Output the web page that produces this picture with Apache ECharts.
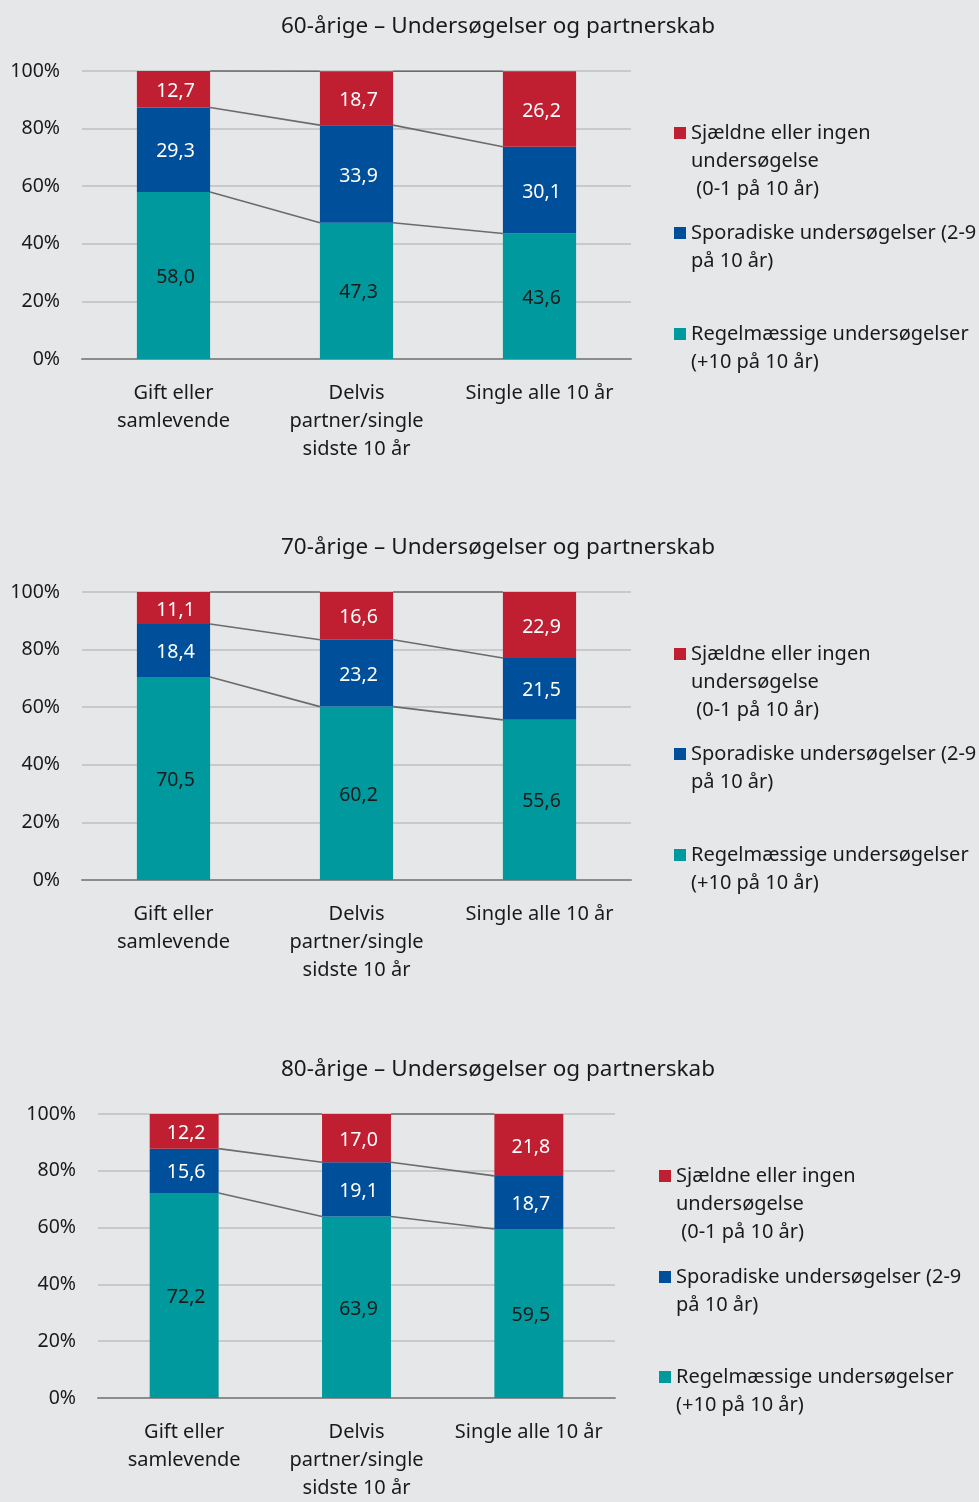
<!DOCTYPE html>
<html>
<head>
<meta charset="utf-8">
<style>
html,body{margin:0;padding:0;background:#e6e7e8;}
#main{width:979px;height:1502px;}
</style>
<script src="https://cdn.jsdelivr.net/npm/echarts@6/dist/echarts.min.js"></script>
</head>
<body>
<div id="main"></div>
<script>
// data
var categories = ['Gift eller\nsamlevende', 'Delvis\npartner/single\nsidste 10 år', 'Single alle 10 år'];
var titles = ['60-årige – Undersøgelser og partnerskab', '70-årige – Undersøgelser og partnerskab', '80-årige – Undersøgelser og partnerskab'];
var seriesNames = ['Regelmæssige', 'Sporadiske', 'Sjældne'];
var legendTexts = {
  'Sjældne': ['Sjældne eller ingen', 'undersøgelse', ' (0-1 på 10 år)'],
  'Sporadiske': ['Sporadiske undersøgelser (2-9', 'på 10 år)'],
  'Regelmæssige': ['Regelmæssige undersøgelser', '(+10 på 10 år)']
};
var regel60 = [58.0, 47.3, 43.6];
var spor60 = [29.3, 33.9, 30.1];
var sjael60 = [12.7, 18.7, 26.2];
var regel70 = [70.5, 60.2, 55.6];
var spor70 = [18.4, 23.2, 21.5];
var sjael70 = [11.1, 16.6, 22.9];
var regel80 = [72.2, 63.9, 59.5];
var spor80 = [15.6, 19.1, 18.7];
var sjael80 = [12.2, 17.0, 21.8];
var panels = [[regel60, spor60, sjael60], [regel70, spor70, sjael70], [regel80, spor80, sjael80]];

var colors = ['#009a9e', '#004f9b', '#c01f32'];
var labelColors = ['#1a1a1a', '#ffffff', '#ffffff'];
var font = 'Noto Sans';
var textColor = '#1a1a1a';

// layout per panel
var layout = [
  {title: 15, grid: {left: 82, top: 71, width: 549, height: 288}, legendX: 674, lines: [133, 233, 334]},
  {title: 536, grid: {left: 82, top: 592, width: 549, height: 288}, legendX: 674, lines: [654, 754, 855]},
  {title: 1058, grid: {left: 98, top: 1114, width: 517, height: 288}, legendX: 659, lines: [1176, 1277, 1377]}
];

var fmt = function (v) { return v.toFixed(1).replace('.', ','); };

var option = {
  backgroundColor: '#e6e7e8',
  animation: false,
  textStyle: {fontFamily: font},
  title: [], grid: [], xAxis: [], yAxis: [], legend: [], series: []
};

panels.forEach(function (data, p) {
  var L = layout[p];
  option.title.push({
    text: titles[p], left: 281, top: L.title, padding: 0,
    textStyle: {fontFamily: font, fontSize: 22.5, fontWeight: 'normal', color: textColor}
  });
  option.grid.push(L.grid);
  option.xAxis.push({
    type: 'category', gridIndex: p, data: categories,
    axisTick: {show: false},
    axisLine: {lineStyle: {color: '#8c8c8c', width: 2}},
    axisLabel: {fontFamily: font, fontSize: 20, lineHeight: 28, color: textColor, margin: 20, interval: 0}
  });
  option.yAxis.push({
    type: 'value', gridIndex: p, min: 0, max: 100, interval: 20,
    axisLine: {show: false}, axisTick: {show: false},
    splitLine: {lineStyle: {color: '#c8c9ca', width: 2}},
    axisLabel: {formatter: '{value}%', fontFamily: font, fontSize: 19.5, color: textColor, margin: 22, padding: [4, 0, 0, 0]}
  });

  // stacked bars
  data.forEach(function (vals, s) {
    option.series.push({
      name: seriesNames[s], type: 'bar', stack: 'p' + p,
      xAxisIndex: p, yAxisIndex: p, data: vals,
      barWidth: '40%',
      itemStyle: {color: colors[s]},
      label: {
        show: true, position: 'inside', fontFamily: font, fontSize: 19.5,
        color: labelColors[s], offset: [2, 2],
        formatter: function (d) { return fmt(d.value); }
      }
    });
  });

  // series lines between bars (cumulative levels)
  var levels = categories.map(function (c, i) {
    var a = data[0][i], b = a + data[1][i], t = b + data[2][i];
    return [i, a, b, t];
  });
  option.series.push({
    type: 'custom', xAxisIndex: p, yAxisIndex: p, silent: true,
    data: levels.slice(0, levels.length - 1),
    renderItem: function (params, api) {
      var i = api.value(0);
      var half = api.size([1, 0])[0] * 0.2;
      var children = [1, 2, 3].map(function (k) {
        var p0 = api.coord([i, levels[i][k]]);
        var p1 = api.coord([i + 1, levels[i + 1][k]]);
        return {
          type: 'line',
          shape: {x1: p0[0] + half, y1: p0[1], x2: p1[0] - half, y2: p1[1]},
          style: {stroke: '#6b6b6b', lineWidth: 1.6}
        };
      });
      return {type: 'group', children: children};
    }
  });

  // legend, one per series so each can sit where the reference puts it
  ['Sjældne', 'Sporadiske', 'Regelmæssige'].forEach(function (name, k) {
    var lines = legendTexts[name];
    var n = lines.length;
    var lh = 28;
    option.legend.push({
      data: [name], orient: 'vertical', left: L.legendX,
      top: L.lines[k] - (2 * n - 1) / 2 * lh,
      padding: 0, itemWidth: 12, itemHeight: 12, itemGap: 0,
      icon: 'rect', selectedMode: false,
      formatter: function () {
        var blanks = [];
        for (var j = 0; j < n - 1; j++) blanks.push('');
        return blanks.concat(lines).join('\n');
      },
      textStyle: {fontFamily: font, fontSize: 20, lineHeight: lh, color: textColor}
    });
  });
});

var chart = echarts.init(document.getElementById('main'));
chart.setOption(option);
</script>
</body>
</html>
